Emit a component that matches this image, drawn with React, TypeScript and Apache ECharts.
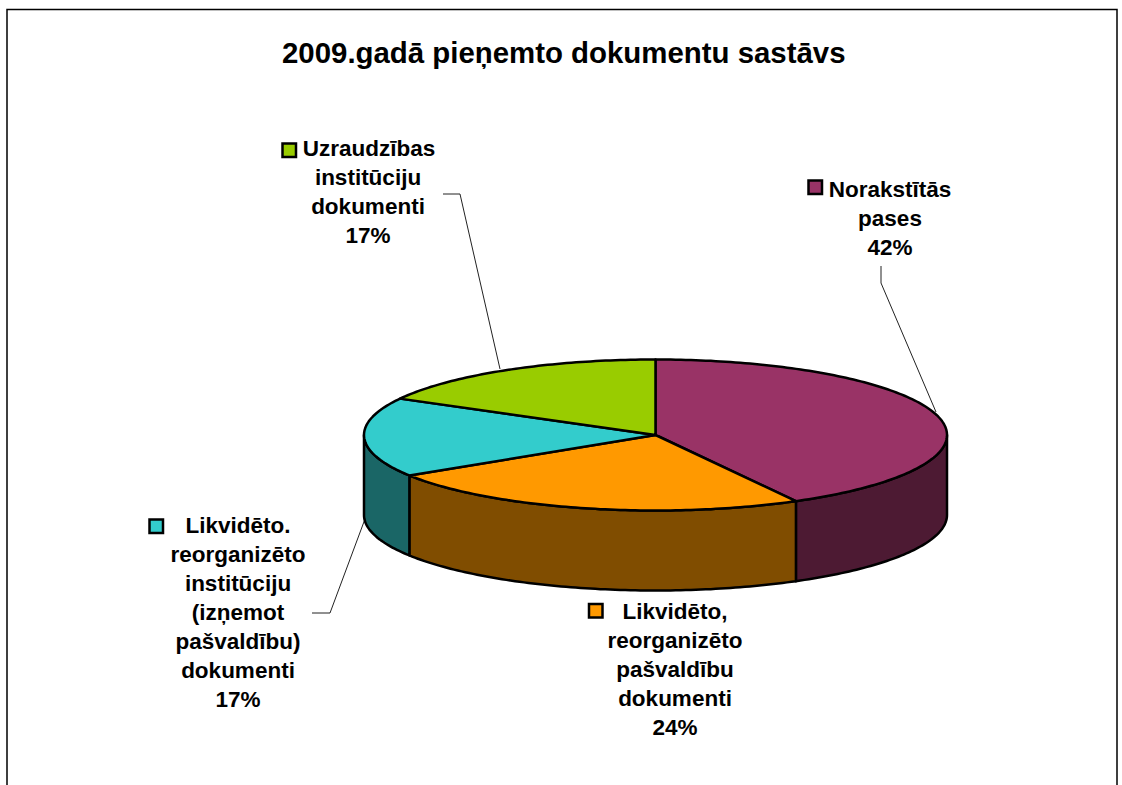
import React, { useEffect, useRef } from "react";
import * as echarts from "echarts";

const titleText = "2009.gadā pieņemto dokumentu sastāvs";
const sliceNames = [
  "Norakstītās pases",
  "Likvidēto, reorganizēto pašvaldību dokumenti",
  "Likvidēto. reorganizēto institūciju (izņemot pašvaldību) dokumenti",
  "Uzraudzības institūciju dokumenti",
];
const sliceValues = [42, 24, 17, 17];
const topColors = ["#993366", "#FF9900", "#33CCCC", "#99CC00"];
const sideColors = ["#4D1A33", "#804D00", "#1A6666", "#4D6600"];

const firstLines = ["Norakstītās", "Likvidēto,", "Likvidēto.", "Uzraudzības"];
const restLines = [
  ["pases"],
  ["reorganizēto", "pašvaldību", "dokumenti"],
  ["reorganizēto", "institūciju", "(izņemot", "pašvaldību)", "dokumenti"],
  ["institūciju", "dokumenti"],
];
// layout of the labels
const labelCx = [890, 675, 238, 368];
const firstCx = [890, 675, 238, 369];
const firstY = [189, 611, 525, 148];
const keyX = [808.5, 589, 149.5, 282.5];
const keyY = [180.5, 604, 519.5, 143.5];
const leaders = [
  [[881, 266], [881, 283], [936, 412]],
  [],
  [[312, 613], [330, 613], [365, 519]],
  [[443, 194], [460, 194], [500, 369]],
];

const CX = 655.5;
const CY = 435;
const RX = 291.5;
const RY = 75.5;
const DEPTH = 80;
const LINE_H = 29;
const FONT = '"Liberation Sans", Arial, sans-serif';

const total = sliceValues.reduce((a, b) => a + b, 0);
const startAngle = (i: number) =>
  (sliceValues.slice(0, i).reduce((a, b) => a + b, 0) / total) * Math.PI * 2;
const rim = (a: number, dy = 0) => [CX + RX * Math.sin(a), CY - RY * Math.cos(a) + dy];
const arcPts = (a0: number, a1: number, dy = 0) => {
  const n = Math.max(2, Math.ceil(((a1 - a0) * 180) / Math.PI));
  const pts: number[][] = [];
  for (let k = 0; k <= n; k++) pts.push(rim(a0 + ((a1 - a0) * k) / n, dy));
  return pts;
};

const sideItem = (params: any) => {
  const i = params.dataIndex;
  const a0 = Math.max(startAngle(i), Math.PI / 2);
  const a1 = Math.min(startAngle(i + 1), (Math.PI * 3) / 2);
  if (a1 <= a0) return { type: "group", children: [] };
  const pts = [...arcPts(a0, a1), ...arcPts(a0, a1, DEPTH).reverse()];
  return {
    type: "polygon",
    shape: { points: pts },
    style: { fill: sideColors[i], stroke: "#000", lineWidth: 2.5, lineJoin: "round" },
  };
};

const topItem = (params: any) => {
  const i = params.dataIndex;
  const pts = [[CX, CY], ...arcPts(startAngle(i), startAngle(i + 1))];
  return {
    type: "polygon",
    shape: { points: pts },
    style: { fill: topColors[i], stroke: "#000", lineWidth: 2.5, lineJoin: "round" },
  };
};

const textStyle = { fill: "#000", font: `bold 22.5px ${FONT}`, textAlign: "center", textVerticalAlign: "middle" };

const buildGraphics = () => {
  const els: any[] = [
    {
      type: "polyline",
      shape: { points: [[7, 790], [7, 9.5], [1117, 9.5], [1117, 790]] },
      style: { fill: "none", stroke: "#000", lineWidth: 1.5 },
    },
  ];
  sliceValues.forEach((v, i) => {
    const lines = [...restLines[i], `${v}%`];
    els.push({
      type: "rect",
      shape: { x: keyX[i], y: keyY[i], width: 13.5, height: 13.5 },
      style: { fill: topColors[i], stroke: "#000", lineWidth: 2.5 },
    });
    els.push({ type: "text", x: firstCx[i], y: firstY[i], style: { ...textStyle, text: firstLines[i] } });
    lines.forEach((t, k) => {
      els.push({
        type: "text",
        x: labelCx[i],
        y: firstY[i] + LINE_H * (k + 1),
        style: { ...textStyle, text: t },
      });
    });
    if (leaders[i].length) {
      els.push({
        type: "polyline",
        shape: { points: leaders[i] },
        style: { fill: "none", stroke: "#222", lineWidth: 1 },
      });
    }
  });
  return els;
};

export default function App() {
  const ref = useRef<HTMLDivElement>(null);
  useEffect(() => {
    const chart = echarts.init(ref.current!, undefined, { renderer: "svg" });
    const data = sliceNames.map((name, i) => ({ name, value: sliceValues[i] }));
    chart.setOption({
      animation: false,
      backgroundColor: "#fff",
      title: {
        text: titleText,
        left: 277,
        top: 33,
        textStyle: { fontFamily: FONT, fontWeight: "bold", fontSize: 29.4, color: "#000" },
      },
      graphic: { elements: buildGraphics() },
      series: [
        { type: "custom", coordinateSystem: "none", renderItem: sideItem, data, silent: true, z: 1 },
        { type: "custom", coordinateSystem: "none", renderItem: topItem, data, silent: true, z: 2 },
      ],
    });
    return () => chart.dispose();
  }, []);
  return <div ref={ref} style={{ position: "fixed", left: 0, top: 0, width: 1122, height: 785 }} />;
}
